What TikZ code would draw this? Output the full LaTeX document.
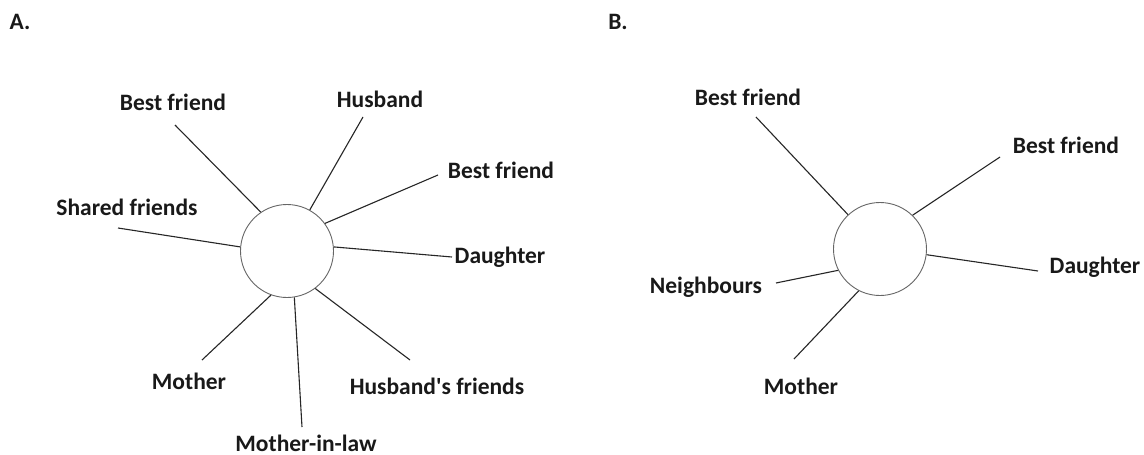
\documentclass[tikz,border=0pt]{standalone}
\usepackage{fontspec}
\setmainfont{Carlito}
\begin{document}
\begin{tikzpicture}[x=1pt,y=-1pt,
  lbl/.style={font=\bfseries\fontsize{23.5}{27}\selectfont, text=black!90, inner sep=0pt},
  hub/.style={circle, draw=black!60, line width=0.9pt, minimum size=93pt, inner sep=0pt},
  spoke/.style={draw=black!85, line width=1.1pt}]
\useasboundingbox (0,0) rectangle (1144,455);
\fill[white] (0,0) rectangle (1144,455);

% ---- panel A ----
\node[lbl] (tA) at (20,22) {A.};
\node[hub] (cA) at (287,251) {};

\node[lbl] (a1) at (173,102) {Best friend};
\node[lbl] (a2) at (380,99) {Husband};
\node[lbl] (a3) at (501,170) {Best friend};
\node[lbl] (a4) at (127,207) {Shared friends};
\node[lbl] (a5) at (500,257) {Daughter};
\node[lbl] (a6) at (189,381) {Mother};
\node[lbl] (a7) at (306,443) {Mother-in-law};
\node[lbl] (a8) at (437,386) {Husband\textquotesingle s friends};

\coordinate (e1) at (175,125);
\coordinate (e2) at (363,117);
\coordinate (e3) at (438,175);
\coordinate (e4) at (118,228);
\coordinate (e5) at (452,257);
\coordinate (e6) at (202,360);
\coordinate (e7) at (302,427);
\coordinate (e8) at (410,360);

\draw[spoke] (cA.124.7) -- (e1);
\draw[spoke] (cA.61.9) -- (e2);
\draw[spoke] (cA.36.4) -- (e3);
\draw[spoke] (cA.175) -- (e4);
\draw[spoke] (cA.5) -- (e5);
\draw[spoke] (cA.250.1) -- (e6);
\draw[spoke] (cA.279.5) -- (e7);
\draw[spoke] (cA.307.6) -- (e8);

% ---- panel B ----
\node[lbl] (tB) at (618,22) {B.};
\node[hub] (cB) at (880,249) {};

\node[lbl] (b1) at (748,97) {Best friend};
\node[lbl] (b2) at (1066,145) {Best friend};
\node[lbl] (b3) at (1095,267) {Daughter};
\node[lbl] (b4) at (706,287) {Neighbours};
\node[lbl] (b5) at (801,386) {Mother};

\coordinate (f1) at (756,117);
\coordinate (f2) at (1000,157);
\coordinate (f3) at (1038,271);
\coordinate (f4) at (776,283);
\coordinate (f5) at (794,359);

\draw[spoke] (cB.133.3) -- (f1);
\draw[spoke] (cB.46.6) -- (f2);
\draw[spoke] (cB.353.9) -- (f3);
\draw[spoke] (cB.207) -- (f4);
\draw[spoke] (cB.243) -- (f5);
\end{tikzpicture}
\end{document}
